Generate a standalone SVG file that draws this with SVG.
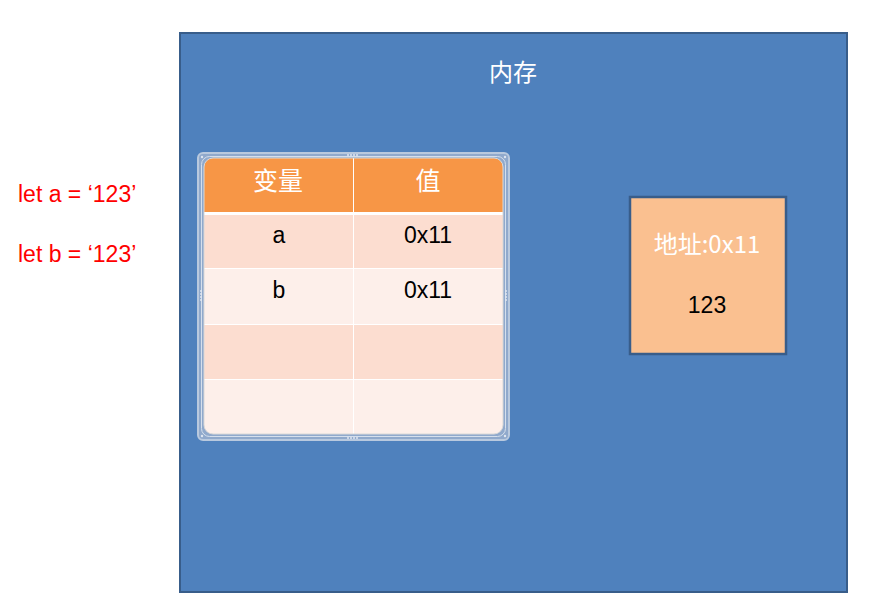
<svg xmlns="http://www.w3.org/2000/svg" width="876" height="614" viewBox="0 0 876 614">
<style>
.cjk{font-family:"Noto Sans CJK SC","Liberation Sans",sans-serif;}
.lat{font-family:"Liberation Sans","Noto Sans CJK SC",sans-serif;}
.cell{font-size:23px;fill:#000;text-anchor:middle;}
.hdr{font-size:25px;fill:#fff;text-anchor:middle;}
.red{font-size:23px;fill:#ff0000;}
.dot{fill:#dfe6f0;}
</style>
<defs>
<clipPath id="tclip"><rect x="204" y="158" width="299" height="276" rx="9"/></clipPath>
</defs>
<rect width="876" height="614" fill="#fff"/>
<g id="memory">
<rect x="180" y="33" width="667" height="559" fill="#4f81bd" stroke="#385d8a" stroke-width="2"/>
<text class="cjk" x="513" y="81" font-size="24" fill="#fff" text-anchor="middle">内存</text>
</g>
<g id="code">
<text class="lat red" x="18" y="202">let a = ‘123’</text>
<text class="lat red" x="18" y="262">let b = ‘123’</text>
</g>
<g id="table">
<rect x="198" y="153" width="311" height="287" rx="5" fill="#90a9cc" stroke="#b9c9de" stroke-width="2"/>
<rect x="201.5" y="156.5" width="304" height="280" rx="8" fill="none" stroke="#d5dfec" stroke-width="1"/>
<g clip-path="url(#tclip)">
<rect x="204" y="158" width="299" height="54" fill="#f79646"/>
<rect x="204" y="212" width="299" height="3" fill="#ffffff"/>
<rect x="204" y="215" width="299" height="53" fill="#fcddd0"/>
<rect x="204" y="269" width="299" height="55" fill="#fdefea"/>
<rect x="204" y="325" width="299" height="54" fill="#fcddd0"/>
<rect x="204" y="380" width="299" height="54" fill="#fdefea"/>
<line x1="204" y1="268.5" x2="503" y2="268.5" stroke="#fff" stroke-width="1"/>
<line x1="204" y1="324.5" x2="503" y2="324.5" stroke="#fff" stroke-width="1"/>
<line x1="204" y1="379.5" x2="503" y2="379.5" stroke="#fff" stroke-width="1"/>
<line x1="353.5" y1="158" x2="353.5" y2="434" stroke="#fff" stroke-width="1"/>
</g>
<rect x="204" y="158" width="299" height="276" rx="9" fill="none" stroke="#d9d9d9" stroke-width="1"/>
<g class="dot">
<circle cx="348" cy="155" r="1"/><circle cx="351" cy="155" r="1"/><circle cx="354" cy="155" r="1"/><circle cx="357" cy="155" r="1"/>
<circle cx="348" cy="438" r="1"/><circle cx="351" cy="438" r="1"/><circle cx="354" cy="438" r="1"/><circle cx="357" cy="438" r="1"/>
<circle cx="201" cy="291" r="1"/><circle cx="201" cy="294" r="1"/><circle cx="201" cy="297" r="1"/><circle cx="201" cy="300" r="1"/>
<circle cx="506" cy="291" r="1"/><circle cx="506" cy="294" r="1"/><circle cx="506" cy="297" r="1"/><circle cx="506" cy="300" r="1"/>
<circle cx="202" cy="157" r="1.2"/><circle cx="505" cy="157" r="1.2"/><circle cx="202" cy="436" r="1.2"/><circle cx="505" cy="436" r="1.2"/>
</g>
<text class="cjk hdr" x="278" y="190">变量</text>
<text class="cjk hdr" x="428" y="190">值</text>
<text class="lat cell" x="279" y="243">a</text>
<text class="lat cell" x="428" y="243">0x11</text>
<text class="lat cell" x="279" y="298">b</text>
<text class="lat cell" x="428" y="298">0x11</text>
</g>
<g id="address">
<rect x="630" y="197" width="156" height="157" fill="#fac090" stroke="#385d8a" stroke-width="2.5"/>
<text class="cjk" x="707" y="253" font-size="24" fill="#fff" text-anchor="middle">地址:0x11</text>
<text class="lat" x="707" y="313" font-size="23" fill="#000" text-anchor="middle">123</text>
</g>
</svg>
